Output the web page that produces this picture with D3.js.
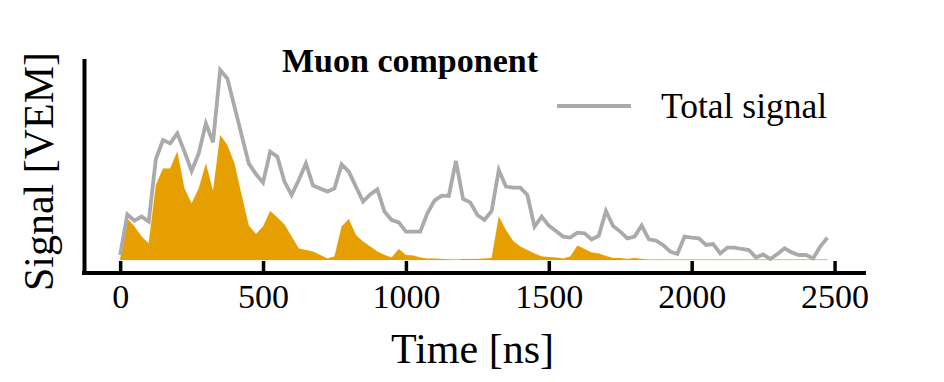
<!DOCTYPE html>
<html>
<head>
<meta charset="utf-8">
<script src="https://cdn.jsdelivr.net/npm/d3@7"></script>
<style>
  body { margin: 0; background: white; }
  svg { display: block; }
  text { font-family: "Liberation Serif", "DejaVu Serif", serif; fill: black; }
</style>
</head>
<body>
<svg width="944" height="382"></svg>
<script>
// FADC time bins [ns]
const timeNs = [
  0, 25, 50, 75, 100, 125, 150, 175, 200, 225,
  250, 275, 300, 325, 350, 375, 400, 425, 450, 475,
  500, 525, 550, 575, 600, 625, 650, 675, 700, 725,
  750, 775, 800, 825, 850, 875, 900, 925, 950, 975,
  1000, 1025, 1050, 1075, 1100, 1125, 1150, 1175, 1200, 1225,
  1250, 1275, 1300, 1325, 1350, 1375, 1400, 1425, 1450, 1475,
  1500, 1525, 1550, 1575, 1600, 1625, 1650, 1675, 1700, 1725,
  1750, 1775, 1800, 1825, 1850, 1875, 1900, 1925, 1950, 1975,
  2000, 2025, 2050, 2075, 2100, 2125, 2150, 2175, 2200, 2225,
  2250, 2275, 2300, 2325, 2350, 2375, 2400, 2425, 2450, 2475
];

// total signal trace [VEM]
const totalSignal = [
  0.25, 2.28, 1.97, 2.17, 1.92, 5.05, 6.0, 5.83, 6.33, 5.42,
  4.45, 5.33, 6.83, 5.88, 9.5, 9.08, 7.67, 6.25, 4.83, 4.3,
  3.87, 5.42, 5.17, 3.92, 3.25, 4.0, 4.83, 3.72, 3.58, 3.42,
  3.58, 4.78, 4.42, 3.67, 2.92, 3.28, 3.53, 2.42, 2.0, 1.88,
  1.42, 1.42, 1.42, 2.33, 2.97, 3.22, 3.2, 4.95, 3.05, 2.88,
  2.25, 2.0, 2.45, 4.5, 3.67, 3.62, 3.62, 3.25, 1.67, 2.17,
  1.72, 1.45, 1.17, 1.12, 1.37, 1.33, 1.03, 1.22, 2.45, 1.7,
  1.42, 1.08, 1.17, 1.72, 1.03, 0.97, 0.75, 0.42, 0.3, 1.17,
  1.12, 1.08, 0.75, 0.8, 0.33, 0.62, 0.62, 0.55, 0.5, 0.13,
  0.28, 0.05, 0.3, 0.58, 0.38, 0.25, 0.25, 0.08, 0.67, 1.12
];

// muon component [VEM]
const muonSignal = [
  0.05, 2.08, 1.67, 1.17, 0.83, 3.75, 4.58, 4.58, 5.42, 3.58,
  2.83, 3.58, 4.83, 3.45, 6.25, 5.75, 4.83, 3.25, 1.72, 1.3,
  1.67, 2.45, 2.12, 1.78, 1.17, 0.58, 0.5, 0.42, 0.25, 0.08,
  0.17, 1.67, 2.05, 1.25, 0.92, 0.67, 0.42, 0.25, 0.13, 0.55,
  0.25, 0.22, 0.12, 0.08, 0.07, 0.05, 0.04, 0.03, 0.05, 0.05,
  0.05, 0.08, 0.1, 2.17, 1.5, 0.95, 0.67, 0.5, 0.33, 0.17,
  0.15, 0.13, 0.08, 0.17, 0.72, 0.55, 0.38, 0.33, 0.2, 0.1,
  0.1, 0.05, 0.1, 0.05, 0.03, 0.02, 0.02, 0.02, 0.02, 0.02,
  0.02, 0.02, 0.02, 0.02, 0.02, 0.02, 0.02, 0.02, 0.02, 0.02,
  0.02, 0.02, 0.02, 0.02, 0.02, 0.02, 0.02, 0.02, 0.02, 0.02
];

const xTicks = [0, 500, 1000, 1500, 2000, 2500];

const orange = "#E69F00";
const gray = "#aaaaaa";

var svg = d3.select("svg");

var x = d3.scaleLinear().domain([-130, 2610]).range([83, 866]);
var y = d3.scaleLinear().domain([-0.65, 10.05]).range([273, 59]);

var rows = timeNs.map((t, i) => ({ t: t, total: totalSignal[i], muon: muonSignal[i] }));

// muon area
var area = d3.area()
  .x((d) => x(d.t))
  .y0(y(0))
  .y1((d) => y(d.muon));

svg.append("path")
  .datum(rows)
  .attr("d", area)
  .attr("fill", orange)
  .attr("stroke", orange)
  .attr("stroke-width", 0.5)
  .attr("stroke-opacity", 0.3);

// total signal line
var line = d3.line()
  .x((d) => x(d.t))
  .y((d) => y(d.total));

svg.append("path")
  .datum(rows)
  .attr("d", line)
  .attr("fill", "none")
  .attr("stroke", gray)
  .attr("stroke-width", 3.8)
  .attr("stroke-linejoin", "miter");

// axes
var xAxis = d3.axisBottom(x)
  .tickValues(xTicks)
  .tickFormat(d3.format("d"))
  .tickSizeInner(-12)
  .tickSizeOuter(0)
  .tickPadding(11);

var gx = svg.append("g")
  .attr("transform", `translate(0, ${y.range()[0]})`)
  .call(xAxis);

gx.select(".domain").remove();
gx.selectAll(".tick line").attr("stroke", "black").attr("stroke-width", 3.5);
gx.selectAll(".tick text")
  .attr("font-size", 34)
  .attr("dy", "0.71em")
  .attr("fill", "black");

svg.append("line")
  .attr("x1", 82).attr("x2", 866)
  .attr("y1", 273).attr("y2", 273)
  .attr("stroke", "black")
  .attr("stroke-width", 4);

svg.append("line")
  .attr("x1", 84.5).attr("x2", 84.5)
  .attr("y1", 59).attr("y2", 275)
  .attr("stroke", "black")
  .attr("stroke-width", 4);

// labels
svg.append("text")
  .attr("x", 472.5)
  .attr("y", 363)
  .attr("text-anchor", "middle")
  .attr("font-size", 42)
  .text("Time [ns]");

svg.append("text")
  .attr("transform", "translate(53, 171.5) rotate(-90)")
  .attr("text-anchor", "middle")
  .attr("font-size", 42)
  .text("Signal [VEM]");

svg.append("text")
  .attr("x", 282)
  .attr("y", 72.3)
  .attr("font-size", 34)
  .attr("font-weight", "bold")
  .text("Muon component");

// legend
svg.append("line")
  .attr("x1", 557).attr("x2", 631)
  .attr("y1", 106).attr("y2", 106)
  .attr("stroke", gray)
  .attr("stroke-width", 4);

svg.append("text")
  .attr("x", 661)
  .attr("y", 117.5)
  .attr("font-size", 35.5)
  .text("Total signal");
</script>
</body>
</html>
